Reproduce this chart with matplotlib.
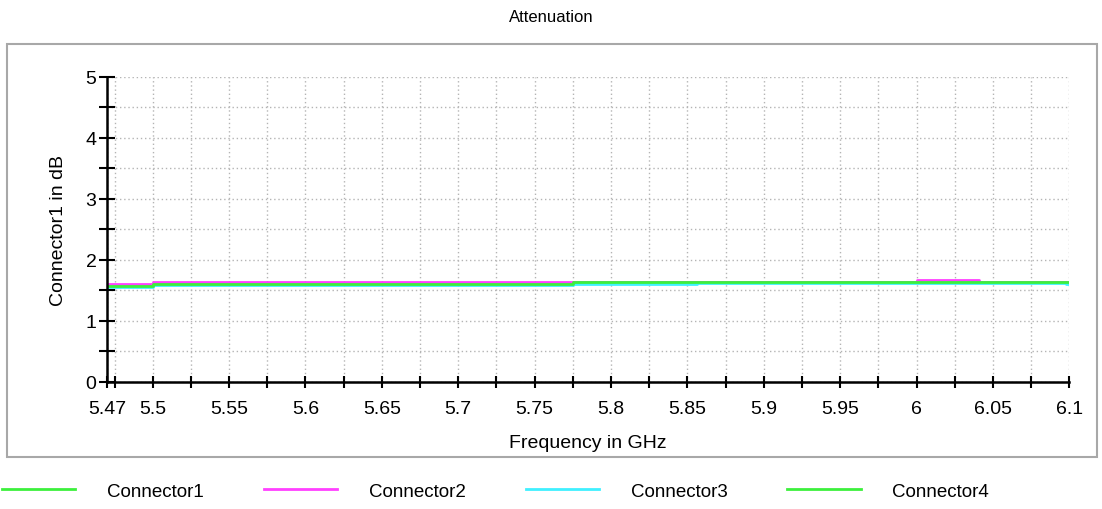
import matplotlib
matplotlib.use('Agg')
import matplotlib.pyplot as plt
from matplotlib.patches import Rectangle

plt.rcParams['font.family'] = ['Liberation Sans', 'DejaVu Sans']

# step breakpoints (GHz) and levels (dB)
freq = [5.47, 5.5, 5.775, 5.856, 6.0, 6.041, 6.098, 6.1]
conn1 = [1.58, 1.61, 1.63, 1.63, 1.63, 1.63, 1.63, 1.63]
conn2 = [1.60, 1.64, 1.63, 1.63, 1.665, 1.63, 1.63, 1.63]
conn3 = [1.56, 1.59, 1.60, 1.62, 1.62, 1.62, 1.60, 1.60]
conn4 = [1.57, 1.60, 1.63, 1.63, 1.63, 1.63, 1.63, 1.63]
names = ['Connector1', 'Connector2', 'Connector3', 'Connector4']
colors = ['#3cf03c', '#ff40ff', '#40f0ff', '#3cf03c']

xlabels = [5.47, 5.5, 5.55, 5.6, 5.65, 5.7, 5.75, 5.8, 5.85, 5.9, 5.95, 6.0, 6.05, 6.1]
xminor = [5.475 + 0.05 * i for i in range(13)]

fig = plt.figure(figsize=(11.02, 5.10), dpi=100)
ax = fig.add_axes([0.097, 0.2496, 0.8733, 0.598])

fig.patches.append(Rectangle((7 / 1102, 52 / 510), 1090 / 1102, 413 / 510,
                             transform=fig.transFigure, fill=False,
                             edgecolor='#a8a8a8', lw=1.5, zorder=0))

for vals, name, c in zip([conn1, conn2, conn3, conn4], names, colors):
    ax.plot(freq, vals, drawstyle='steps-post', color=c, lw=2, label=name)

ax.set_xlim(5.47, 6.1)
ax.set_ylim(0, 5)
ax.set_xticks(xlabels)
ax.set_xticklabels(['5.47', '5.5', '5.55', '5.6', '5.65', '5.7', '5.75', '5.8',
                    '5.85', '5.9', '5.95', '6', '6.05', '6.1'])
ax.set_xticks(xminor, minor=True)
ax.set_yticks([0, 1, 2, 3, 4, 5])
ax.set_yticks([0.5, 1.5, 2.5, 3.5, 4.5], minor=True)

for s in ['top', 'right']:
    ax.spines[s].set_visible(False)
for s in ['left', 'bottom']:
    ax.spines[s].set_linewidth(1.8)

ax.tick_params(axis='both', which='both', direction='inout', width=1.5,
               labelsize=14, colors='black')
ax.tick_params(axis='y', which='both', length=11, pad=2)
ax.tick_params(axis='x', which='both', length=9, pad=9)

ax.grid(True, which='both', color='#b4b4b4', lw=1, linestyle=(0, (1, 2)))
ax.set_axisbelow(True)

ax.set_xlabel('Frequency in GHz', fontsize=14, labelpad=12)
ax.set_ylabel('Connector1 in dB', fontsize=14, labelpad=13)
fig.text(0.5, 1 - 17 / 510, 'Attenuation', ha='center', va='center', fontsize=12)

fig.legend(loc='lower left', bbox_to_anchor=(2 / 1102, 9 / 510), ncol=4,
           frameon=False, fontsize=13.5, handlelength=3.9, handletextpad=1.7,
           columnspacing=3.2, borderpad=0, borderaxespad=0)

fig.savefig('out.png', dpi=100)
